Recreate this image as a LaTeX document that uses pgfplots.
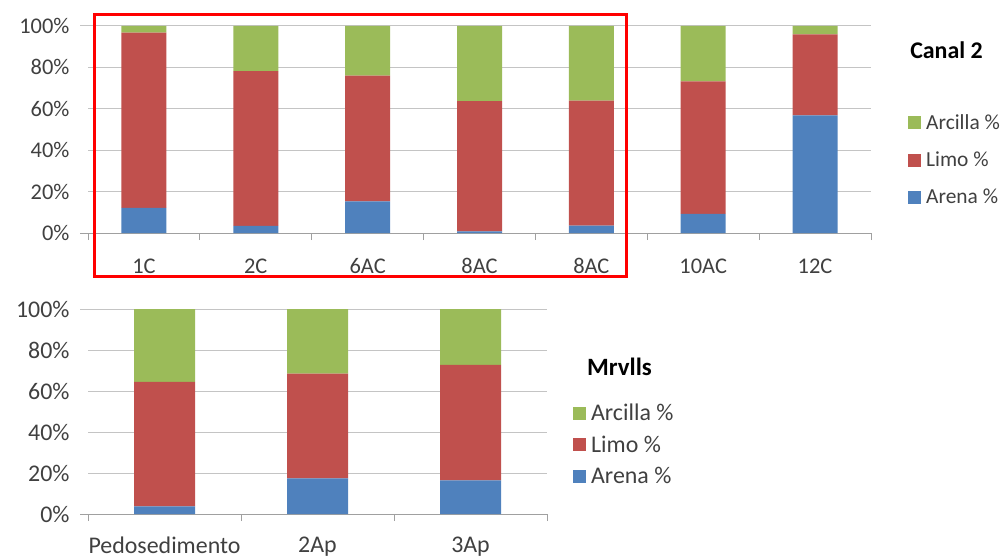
\documentclass[border=0pt]{standalone}
\usepackage{pgfplots}
\pgfplotsset{compat=1.18}
\usepackage{fontspec}
\setmainfont{Carlito}

\definecolor{arena}{HTML}{4F81BD}
\definecolor{limo}{HTML}{C0504D}
\definecolor{arcilla}{HTML}{9BBB59}
\definecolor{gridc}{HTML}{C4C4C4}
\definecolor{axisc}{HTML}{A0A0A0}
\definecolor{tickc}{HTML}{404040}

% Excel-like stacked percentage columns
\pgfplotsset{
  excel/.style={
    scale only axis,
    ybar stacked,
    ymin=0, ymax=100,
    ytick={0,20,40,60,80,100},
    yticklabels={0\%,20\%,40\%,60\%,80\%,100\%},
    ymajorgrids,
    major grid style={gridc, line width=1bp, shorten <=-8bp},
    axis x line=bottom,
    axis y line=left,
    x axis line style={axisc, line width=1bp, -, shorten <=-8bp},
    y axis line style={draw=none, -},
    tick align=outside,
    major tick length=8bp,
    ytick style={draw=none},
    xtick style={draw=none},
    extra x tick style={grid=none, major tick length=7bp,
      xtick style={draw=axisc, line width=1bp}},
    extra x tick labels={},
    ticklabel style={text=tickc},
    yticklabel style={xshift=-7bp},
    xticklabel style={yshift=-14bp},
    legend cell align=left,
    reverse legend,
    legend image code/.code={\fill[##1] (0bp,-6.5bp) rectangle (13bp,6.5bp);},
  },
}

\begin{document}
\begin{tikzpicture}[x=1bp,y=1bp]
\useasboundingbox (0,0) rectangle (1005,-558);

% Canal 2 profile
\begin{axis}[excel,
  at={(88bp,-233bp)}, anchor=south west,
  width=783bp, height=207bp,
  xmin=-0.5, xmax=6.5,
  bar width=45bp,
  xtick={0,1,2,3,4,5,6},
  xticklabels={1C,2C,6AC,8AC,8AC,10AC,12C},
  extra x ticks={-0.5,0.5,1.5,2.5,3.5,4.5,5.5,6.5},
  ticklabel style={font=\fontsize{22.5}{27}\selectfont},
  legend style={draw=none, fill=none, at={(axis description cs:1.0434,0.3527)},
    anchor=west, font=\fontsize{21.5}{26}\selectfont, text=tickc,
    row sep=17bp, /tikz/every odd column/.append style={column sep=3bp}},
]
\addplot[fill=arena, draw=none] coordinates {(0,12.1) (1,3.4) (2,15.3) (3,0.8) (4,3.6) (5,9.2) (6,56.8)};
\addplot[fill=limo, draw=none] coordinates {(0,84.7) (1,74.8) (2,60.7) (3,62.9) (4,60.4) (5,64.0) (6,39.2)};
\addplot[fill=arcilla, draw=none] coordinates {(0,3.2) (1,21.8) (2,24.0) (3,36.3) (4,36.0) (5,26.8) (6,4.0)};
\legend{Arena \%, Limo \%, Arcilla \%}
\end{axis}

% Mrvlls profile
\begin{axis}[excel,
  at={(88bp,-514bp)}, anchor=south west,
  width=459bp, height=205bp,
  xmin=-0.5, xmax=2.5,
  bar width=61bp,
  xtick={0,1,2},
  xticklabels={Pedosedimento,2Ap,3Ap},
  extra x ticks={-0.5,0.5,1.5,2.5},
  ticklabel style={font=\fontsize{24}{29}\selectfont},
  xticklabel style={yshift=3bp},
  legend style={draw=none, fill=none, at={(axis description cs:1.05,0.339)},
    anchor=west, font=\fontsize{24}{29}\selectfont, text=tickc,
    row sep=9.5bp, /tikz/every odd column/.append style={column sep=3bp}},
]
\addplot[fill=arena, draw=none] coordinates {(0,3.7) (1,17.4) (2,16.4)};
\addplot[fill=limo, draw=none] coordinates {(0,60.7) (1,51.1) (2,56.3)};
\addplot[fill=arcilla, draw=none] coordinates {(0,35.6) (1,31.5) (2,27.3)};
\legend{Arena \%, Limo \%, Arcilla \%}
\end{axis}

\node[font=\bfseries\fontsize{24}{29}\selectfont] at (946.5,-50) {Canal 2};
\node[font=\bfseries\fontsize{25}{30}\selectfont] at (619.5,-367) {Mrvlls};

% highlight frame around the first five samples
\draw[red, line width=3bp] (94,-14.5) rectangle (626,-277);
\end{tikzpicture}
\end{document}
